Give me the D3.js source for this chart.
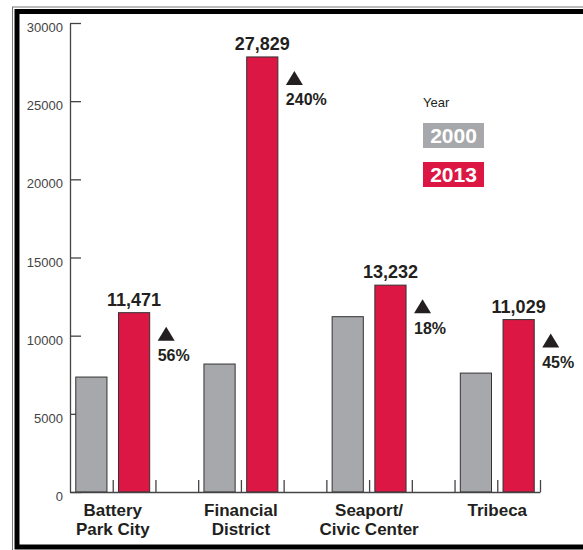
<!DOCTYPE html>
<html>
<head>
<meta charset="utf-8">
<script src="https://cdn.jsdelivr.net/npm/d3@7"></script>
<style>
  body { margin: 0; background: #fff; }
  svg { display: block; font-family: "Liberation Sans", Arial, Helvetica, sans-serif; }
</style>
</head>
<body>
<div id="chart"></div>
<script>
// data
var districts = [["Battery", "Park City"], ["Financial", "District"], ["Seaport/", "Civic Center"], ["Tribeca"]];
var years = ["2000", "2013"];
var values2000 = [7353, 8185, 11214, 7606];
var values2013 = [11471, 27829, 13232, 11029];
var changeLabels = ["56%", "240%", "18%", "45%"];
var yTicks = [0, 5000, 10000, 15000, 20000, 25000, 30000];

var colors = { "2000": "#a7a8ab", "2013": "#dc1743" };
var ink = "#231f20";

var width = 583, height = 550;

var svg = d3.select("#chart")
  .append("svg")
    .attr("width", width)
    .attr("height", height);

// double frame round the chart
svg.append("rect")
  .attr("x", 12.5).attr("y", 7)
  .attr("width", 700).attr("height", 700)
  .attr("fill", "none")
  .attr("stroke", "#777")
  .attr("stroke-width", 1);

svg.append("rect")
  .attr("x", 17).attr("y", 11.5)
  .attr("width", 700).attr("height", 535.5)
  .attr("fill", "#fff")
  .attr("stroke", "#000")
  .attr("stroke-width", 5);

// y scale
var y = d3.scaleLinear()
  .domain([0, 30000])
  .range([492, 23]);

// 11 slots: gray, red, gap for each district (last gap dropped)
var nSlots = districts.length * 3 - 1;
var slot = d3.scaleBand()
  .domain(d3.range(nSlots))
  .range([70, 540])
  .paddingInner(0.27)
  .paddingOuter(0.135);

var slotEdge = d3.scaleLinear()
  .domain([0, nSlots])
  .range([70, 540]);

// Y axis: line and ticks to the right, labels on the left
svg.append("g")
  .attr("transform", "translate(70,0)")
  .call(d3.axisRight(y).tickValues(yTicks).tickSize(11).tickSizeOuter(0).tickFormat(""))
  .call(function(g) { g.selectAll("path, line").attr("stroke", "#444").attr("stroke-width", 1.3); });

svg.append("g")
  .selectAll("text")
  .data(yTicks)
  .enter()
  .append("text")
    .attr("x", 63)
    .attr("y", function(d) { return y(d) + 9; })
    .attr("text-anchor", "end")
    .attr("font-size", 13)
    .attr("fill", "#444")
    .text(function(d) { return d; });

// bars
var groups = svg.append("g")
  .selectAll("g")
  .data(districts)
  .enter()
  .append("g");

groups.append("rect")
  .attr("x", function(d, i) { return slot(i * 3); })
  .attr("y", function(d, i) { return y(values2000[i]); })
  .attr("width", slot.bandwidth())
  .attr("height", function(d, i) { return y(0) - y(values2000[i]); })
  .attr("fill", colors["2000"])
  .attr("stroke", "#333")
  .attr("stroke-width", 1);

groups.append("rect")
  .attr("x", function(d, i) { return slot(i * 3 + 1); })
  .attr("y", function(d, i) { return y(values2013[i]); })
  .attr("width", slot.bandwidth())
  .attr("height", function(d, i) { return y(0) - y(values2013[i]); })
  .attr("fill", colors["2013"])
  .attr("stroke", "#333")
  .attr("stroke-width", 1);

// X axis: baseline with small ticks pointing up
svg.append("g")
  .attr("transform", "translate(0,492)")
  .call(d3.axisBottom(slotEdge).tickValues(d3.range(1, nSlots + 1)).tickSize(-12).tickSizeOuter(0).tickFormat(""))
  .call(function(g) { g.selectAll("path, line").attr("stroke", "#444").attr("stroke-width", 1.3); });

// value labels over the 2013 bars
groups.append("text")
  .attr("x", function(d, i) { return slot(i * 3 + 1) + slot.bandwidth() / 2; })
  .attr("y", function(d, i) { return y(values2013[i]) - 7; })
  .attr("text-anchor", "middle")
  .attr("font-size", 18)
  .attr("font-weight", "bold")
  .attr("fill", ink)
  .text(function(d, i) { return d3.format(",")(values2013[i]); });

// up triangles and percent change
groups.append("path")
  .attr("d", function(d, i) {
    var x0 = slot(i * 3 + 1) + slot.bandwidth() + 8;
    var y0 = y(values2013[i]) + 14;
    return "M" + x0 + "," + (y0 + 14) + "L" + (x0 + 8.5) + "," + y0 + "L" + (x0 + 17) + "," + (y0 + 14) + "Z";
  })
  .attr("fill", ink);

groups.append("text")
  .attr("x", function(d, i) { return slot(i * 3 + 1) + slot.bandwidth() + 8; })
  .attr("y", function(d, i) { return y(values2013[i]) + 48.5; })
  .attr("font-size", 16)
  .attr("font-weight", "bold")
  .attr("fill", ink)
  .text(function(d, i) { return changeLabels[i]; });

// district names under the axis
groups.append("text")
  .attr("text-anchor", "middle")
  .attr("font-size", 17)
  .attr("font-weight", "bold")
  .attr("fill", ink)
  .attr("transform", function(d, i) {
    var cx = (slot(i * 3) + slot(i * 3 + 1) + slot.bandwidth()) / 2;
    return "translate(" + cx + ",516)";
  })
  .selectAll("tspan")
  .data(function(d) { return d; })
  .enter()
  .append("tspan")
    .attr("x", 0)
    .attr("y", function(d, j) { return j * 19; })
    .text(function(d) { return d; });

// legend
svg.append("text")
  .attr("x", 423)
  .attr("y", 107)
  .attr("font-size", 13)
  .attr("fill", ink)
  .text("Year");

var legend = svg.append("g")
  .selectAll("g")
  .data(years)
  .enter()
  .append("g")
    .attr("transform", function(d, i) { return "translate(423," + (123 + i * 39) + ")"; });

legend.append("rect")
  .attr("width", 61)
  .attr("height", 25)
  .attr("fill", function(d) { return colors[d]; });

legend.append("text")
  .attr("x", 30.5)
  .attr("y", 20)
  .attr("text-anchor", "middle")
  .attr("font-size", 21)
  .attr("font-weight", "bold")
  .attr("fill", "#fff")
  .text(function(d) { return d; });
</script>
</body>
</html>
